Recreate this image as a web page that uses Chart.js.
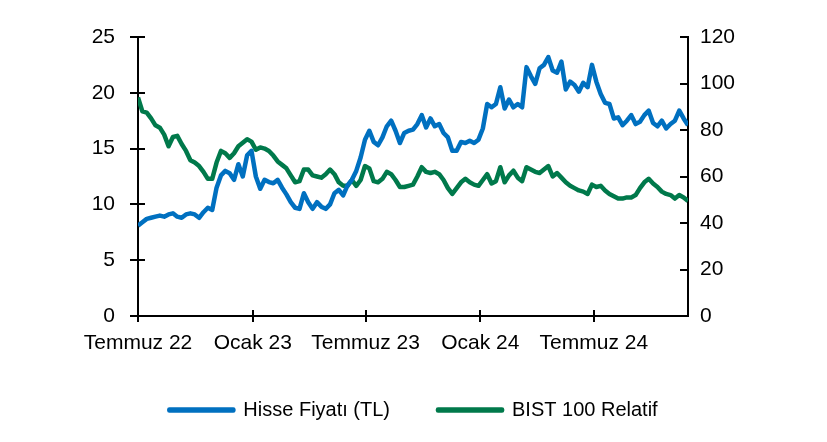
<!DOCTYPE html>
<html>
<head>
<meta charset="utf-8">
<script src="https://cdn.jsdelivr.net/npm/chart.js@4.4.1/dist/chart.umd.min.js"></script>
<style>
  html, body { margin: 0; padding: 0; background: #fff; }
  #wrap { width: 827px; height: 442px; position: relative; }
</style>
</head>
<body>
<div id="wrap"><canvas id="chart"></canvas></div>
<script>
// weekly observations starting 1 July 2022
const startDate = '2022-07-01';
const tickDates = ['2022-07-01', '2023-01-01', '2023-07-01', '2024-01-01', '2024-07-01'];
const tickLabels = ['Temmuz 22', 'Ocak 23', 'Temmuz 23', 'Ocak 24', 'Temmuz 24'];

const hisseFiyati = [
  8.1, 8.4, 8.7, 8.8, 8.9, 9.0, 8.9, 9.1, 9.2, 8.9,
  8.8, 9.1, 9.2, 9.1, 8.8, 9.3, 9.7, 9.5, 11.5, 12.6,
  13.0, 12.8, 12.2, 13.6, 12.5, 14.4, 14.8, 12.5, 11.4, 12.2,
  12.0, 11.9, 12.2, 11.5, 10.9, 10.2, 9.7, 9.6, 11.0, 10.2,
  9.6, 10.2, 9.8, 9.6, 10.0, 11.0, 11.3, 10.8, 11.7, 12.2,
  13.0, 14.2, 15.8, 16.6, 15.6, 15.3, 16.0, 17.0, 17.5, 16.6,
  15.5, 16.4, 16.6, 16.7, 17.2, 18.0, 16.9, 17.7, 17.0, 17.2,
  16.4, 16.0, 14.8, 14.8, 15.6, 15.5, 15.7, 15.5, 15.8, 16.8,
  19.0, 18.7, 19.0, 20.5, 18.6, 19.4, 18.7, 19.0, 18.7, 22.3,
  21.5, 20.8, 22.2, 22.5, 23.2, 22.0, 21.8, 22.8, 20.3, 21.0,
  20.7, 20.1, 20.9, 20.5, 22.5, 21.0, 19.9, 19.1, 19.0, 17.7,
  17.8, 17.1, 17.5, 18.0, 17.2, 17.4, 18.0, 18.4, 17.3, 17.0,
  17.5, 16.8, 17.2, 17.5, 18.4, 17.7, 17.1
];

const bistRelatif = [
  94, 88, 87.5, 85, 82, 81, 78, 73, 77, 77.5,
  74, 71, 67, 66, 64.5, 62, 59, 59, 66, 71,
  70, 68, 70, 73, 74.5, 76, 75, 71.5, 72.5, 72,
  71, 69, 66.5, 65, 63.5, 60.5, 57.5, 58, 63, 63,
  60.5, 60, 59.5, 61, 63, 61, 57.5, 56, 56, 58.5,
  56, 58.5, 64.5, 63.5, 58, 57.5, 59, 62, 61, 58.5,
  55.5, 55.5, 56, 56.5, 60, 64, 62, 61.5, 62, 61,
  58.5, 55, 52.5, 55, 57.5, 59, 57.5, 56.5, 56, 58.5,
  61, 57, 58, 64, 57.5, 60.5, 62.5, 59.5, 58, 64,
  63, 62, 61.5, 63, 64.5, 60, 61.5, 59.5, 57.5, 56,
  55, 54, 53.5, 52.5, 56.5, 55.5, 56, 54, 52.5, 51.5,
  50.5, 50.5, 51, 51, 52, 55, 57.5, 59, 57, 55.5,
  53.5, 52.5, 52, 50.5, 52, 51, 49.5
];

const DAY = 86400000;
const t0 = Date.parse(startDate);
const tickDays = tickDates.map(d => Math.round((Date.parse(d) - t0) / DAY));
const toPoints = arr => arr.map((v, i) => ({ x: i * 7, y: v }));
const lastDay = (hisseFiyati.length - 1) * 7;

const BLUE = '#0070C0';
const GREEN = '#00794B';

// tick marks like the original: crossing on the left and bottom, inward on the right
const tickMarks = {
  id: 'tickMarks',
  afterDraw(chart) {
    const { ctx, chartArea: a, scales } = chart;
    ctx.save();
    ctx.strokeStyle = '#000';
    ctx.lineWidth = 2;
    ctx.beginPath();
    scales.y.ticks.forEach(t => {
      const y = Math.round(scales.y.getPixelForValue(t.value));
      ctx.moveTo(a.left - 8, y); ctx.lineTo(a.left + 7, y);
    });
    scales.y2.ticks.forEach(t => {
      const y = Math.round(scales.y2.getPixelForValue(t.value));
      ctx.moveTo(a.right - 8, y); ctx.lineTo(a.right, y);
    });
    scales.x.ticks.forEach(t => {
      const x = Math.round(scales.x.getPixelForValue(t.value));
      ctx.moveTo(x, a.bottom - 6); ctx.lineTo(x, a.bottom + 6);
    });
    ctx.stroke();
    ctx.restore();
  }
};

const font = { family: "'Liberation Sans', Arial, sans-serif", size: 21 };

new Chart(document.getElementById('chart'), {
  type: 'line',
  data: {
    datasets: [
      {
        label: 'Hisse Fiyatı (TL)', data: toPoints(hisseFiyati), yAxisID: 'y',
        borderColor: BLUE, backgroundColor: BLUE, borderWidth: 4.5,
        borderJoinStyle: 'round', pointRadius: 0, tension: 0
      },
      {
        label: 'BIST 100 Relatif', data: toPoints(bistRelatif), yAxisID: 'y2',
        borderColor: GREEN, backgroundColor: GREEN, borderWidth: 4.5,
        borderJoinStyle: 'round', pointRadius: 0, tension: 0
      }
    ]
  },
  options: {
    responsive: true,
    maintainAspectRatio: false,
    animation: false,
    layout: { padding: { top: 37, bottom: 12, left: 0, right: 0 } },
    plugins: {
      tooltip: { enabled: false },
      legend: {
        position: 'bottom',
        labels: {
          boxWidth: 64, boxHeight: 1, padding: 48, color: '#000',
          font: { family: font.family, size: 20 }
        }
      }
    },
    scales: {
      x: {
        type: 'linear', min: 0, max: lastDay,
        grid: { display: false, drawTicks: false },
        border: { display: true, color: '#000', width: 2 },
        afterBuildTicks: s => { s.ticks = tickDays.map(v => ({ value: v })); },
        afterFit: s => { s.height = 36; },
        ticks: {
          autoSkip: false, maxRotation: 0, padding: 15, color: '#000', font,
          callback: (v, i) => tickLabels[i]
        }
      },
      y: {
        position: 'left', min: 0, max: 25,
        grid: { display: false, drawTicks: false },
        border: { display: true, color: '#000', width: 2 },
        afterFit: s => { s.width = 138; },
        ticks: { stepSize: 5, padding: 23, color: '#000', font }
      },
      y2: {
        position: 'right', min: 0, max: 120,
        grid: { display: false, drawTicks: false },
        border: { display: true, color: '#000', width: 2 },
        afterFit: s => { s.width = 139; },
        ticks: { stepSize: 20, padding: 12, color: '#000', font }
      }
    }
  },
  plugins: [tickMarks]
});
</script>
</body>
</html>
